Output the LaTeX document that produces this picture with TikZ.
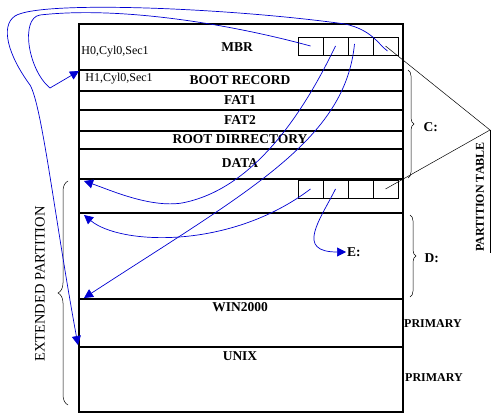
\documentclass[tikz,border=0pt]{standalone}
\usepackage{fontspec}
\setmainfont{Liberation Serif}
\usepackage{xcolor}
\usetikzlibrary{arrows.meta,decorations.pathreplacing,calc}
\definecolor{ptrblue}{RGB}{0,0,210}

\begin{document}
\begin{tikzpicture}[x=1pt,y=1pt,
  cell/.style={draw,line width=0.6pt,minimum width=25pt,minimum height=18pt,inner sep=0pt,outer sep=0pt},
  lbl/.style={font=\fontsize{13.5}{15}\selectfont\bfseries},
  chs/.style={font=\fontsize{12}{14}\selectfont},
  prim/.style={font=\fontsize{12}{14}\selectfont\bfseries},
  ptr/.style={ptrblue,line width=0.7pt,-{Triangle[length=9pt,width=9pt]}},
  brc/.style={decorate,decoration={brace,amplitude=6pt},line width=0.5pt}]
  \useasboundingbox (0,0) rectangle (497,-419);
  % disk layout
  \draw[line width=2pt] (79,-24) rectangle (403,-412);
  \foreach \yy in {70,91,110,131,149,179,213,299,347}
    \draw[line width=2pt] (79,-\yy) -- (403,-\yy);
  % partition tables
  \foreach \i in {1,...,4} {
    \node[cell] (mbr\i) at (285.5+25*\i,-46) {};
    \node[cell] (ext\i) at (285.5+25*\i,-189) {};
  }
  % labels
  \node[lbl] (mbr) at (237,-47) {MBR};
  \node[chs] (h0) at (115,-52) {H0,Cyl0,Sec1};
  \node[chs] (h1) at (119,-79) {H1,Cyl0,Sec1};
  \node[lbl] (boot) at (240,-80) {BOOT RECORD};
  \node[lbl] (fat1) at (240,-100) {FAT1};
  \node[lbl] (fat2) at (240,-120) {FAT2};
  \node[lbl] (root) at (240,-139) {ROOT DIRRECTORY};
  \node[lbl] (data) at (240,-163) {DATA};
  \node[lbl] (win) at (240,-307) {WIN2000};
  \node[lbl] (unix) at (240,-356) {UNIX};
  \node[prim] (prim1) at (433,-324) {PRIMARY};
  \node[prim] (prim2) at (434,-378) {PRIMARY};
  \node[lbl,anchor=west,inner sep=1pt] (e) at (346,-252) {E:};
  \node[lbl,anchor=west] (c) at (420,-127) {C:};
  \node[lbl,anchor=west] (d) at (421,-258) {D:};
  % partition table callout
  \coordinate (pt) at (490,-130);
  \coordinate (ptend) at (490,-253);
  \draw[line width=0.5pt] (mbr4.center) -- (pt) -- (ext4.center);
  \draw[line width=0.5pt] (pt) -- (ptend);
  \node[prim,rotate=90] (ptlbl) at (480,-197) {PARTITION TABLE};
  % braces
  \draw[brc] (408,-70) -- (408,-178);
  \draw[brc] (410,-215) -- (410,-297);
  \draw[brc,decoration={amplitude=10pt}] (68,-405) -- (68,-181);
  \node[font=\fontsize{14.5}{16}\selectfont,rotate=90] (extlbl) at (40,-284) {EXTENDED PARTITION};
  % pointers
  \coordinate (bootin) at (79,-71);
  \coordinate (extin) at (84,-181);
  \coordinate (login) at (84,-215);
  \coordinate (winin) at (84,-298);
  \coordinate (unixin) at (78,-345);
  \draw[ptr] (mbr1.center) .. controls (230,-24) and (120,-6) .. (40,-15)
    .. controls (20,-18) and (28,-70) .. (50,-88) -- (bootin);
  \draw[ptr] ($(mbr4.center)+(2,-5)$) .. controls (378,-44) and (372,-30) .. (345,-24)
    .. controls (230,-8) and (40,0) .. (15,-16)
    .. controls (0,-26) and (8,-55) .. (30,-85)
    .. controls (42,-105) and (55,-220) .. (unixin);
  \draw[ptr] (mbr2.center) .. controls (300,-120) and (250,-190) .. (182,-203)
    .. controls (150,-208) and (110,-190) .. (extin);
  \draw[ptr] ($(mbr3.center)+(-6,2)$) .. controls (345,-140) and (250,-190) .. (winin);
  \draw[ptr] (ext1.center) .. controls (230,-250) and (120,-245) .. (login);
  \draw[ptr] (ext2.center) .. controls (320,-220) and (295,-252) .. (e.west);
\end{tikzpicture}
\end{document}
